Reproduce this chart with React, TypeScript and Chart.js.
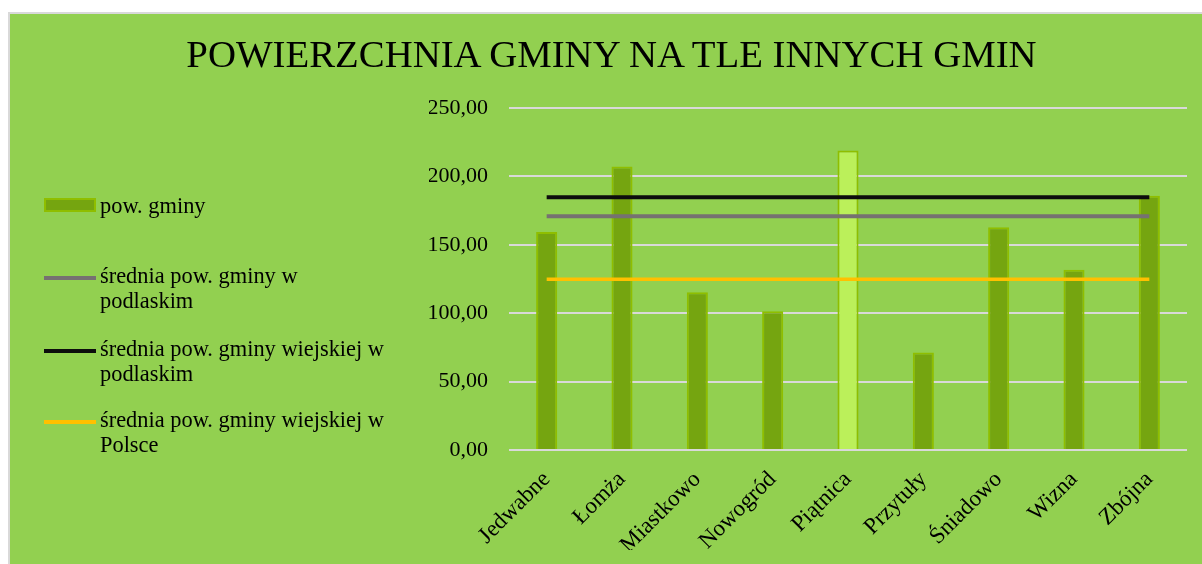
import React, { useEffect, useRef } from "react";
import { Chart, registerables } from "chart.js";

Chart.register(...registerables);

const categories = ["Jedwabne", "Łomża", "Miastkowo", "Nowogród", "Piątnica", "Przytuły", "Śniadowo", "Wizna", "Zbójna"];
const powGminy = [159.4, 207.3, 115.3, 101.4, 218.9, 71.2, 162.8, 131.8, 185.9];
const sredniaPodlaskie = [170.9, 170.9, 170.9, 170.9, 170.9, 170.9, 170.9, 170.9, 170.9];
const sredniaWiejskaPodlaskie = [184.8, 184.8, 184.8, 184.8, 184.8, 184.8, 184.8, 184.8, 184.8];
const sredniaWiejskaPolska = [124.8, 124.8, 124.8, 124.8, 124.8, 124.8, 124.8, 124.8, 124.8];
const yTicks = [0, 50, 100, 150, 200, 250];

const titleText = "POWIERZCHNIA GMINY NA TLE INNYCH GMIN";
const seriesNames = [
  "pow. gminy",
  "średnia pow. gminy w podlaskim",
  "średnia pow. gminy wiejskiej w podlaskim",
  "średnia pow. gminy wiejskiej w Polsce",
];

const FONT = "'Liberation Serif', 'DejaVu Serif', serif";
const BG = "#92D050";
const BAR_FILL = "#75A510";
const BAR_HILITE = "#BBF05A";
const BAR_BORDER = "#8FBE00";
const GRAY = "#767171";
const BLACK = "#0D0D0D";
const ORANGE = "#FFC000";

export default function App() {
  const canvasRef = useRef<HTMLCanvasElement | null>(null);

  useEffect(() => {
    document.body.style.margin = "0";
    const ctx = canvasRef.current!.getContext("2d")!;
    const chart = new Chart(ctx, {
      type: "bar",
      data: {
        labels: categories,
        datasets: [
          {
            type: "line",
            label: seriesNames[2],
            data: sredniaWiejskaPodlaskie,
            borderColor: BLACK,
            borderWidth: 4,
            pointRadius: 0,
            borderCapStyle: "butt",
            order: 0,
          },
          {
            type: "line",
            label: seriesNames[1],
            data: sredniaPodlaskie,
            borderColor: GRAY,
            borderWidth: 4,
            pointRadius: 0,
            borderCapStyle: "butt",
            order: 0,
          },
          {
            type: "line",
            label: seriesNames[3],
            data: sredniaWiejskaPolska,
            borderColor: ORANGE,
            borderWidth: 3.5,
            pointRadius: 0,
            borderCapStyle: "butt",
            order: 0,
          },
          {
            type: "bar",
            label: seriesNames[0],
            data: powGminy,
            backgroundColor: categories.map((c) => (c === "Piątnica" ? BAR_HILITE : BAR_FILL)),
            borderColor: BAR_BORDER,
            borderWidth: 2,
            borderSkipped: "bottom",
            categoryPercentage: 1,
            barPercentage: 0.28,
            order: 1,
          },
        ],
      } as any,
      options: {
        animation: false,
        responsive: false,
        maintainAspectRatio: false,
        layout: { padding: { left: 421, right: 15, top: 96, bottom: 14 } },
        plugins: {
          legend: { display: false },
          title: { display: false },
          tooltip: { enabled: false },
        },
        scales: {
          x: {
            grid: { display: false, drawTicks: false },
            border: { display: false },
            afterFit: (s: any) => {
              s.height = 100;
            },
            ticks: {
              minRotation: 45,
              maxRotation: 45,
              padding: 16,
              color: "#000000",
              font: { family: FONT, size: 23 },
            },
          },
          y: {
            min: 0,
            max: 250,
            afterFit: (s: any) => {
              s.width = 80;
            },
            afterBuildTicks: (s: any) => {
              s.ticks = yTicks.map((v) => ({ value: v }));
            },
            grid: { color: "#D9D9D9", lineWidth: 2, drawTicks: false },
            border: { display: false },
            ticks: {
              padding: 21,
              color: "#000000",
              font: { family: FONT, size: 22 },
              callback: (v: any) => Number(v).toFixed(2).replace(".", ","),
            },
          },
        },
      } as any,
    });
    return () => chart.destroy();
  }, []);

  const legendText: React.CSSProperties = {
    position: "absolute",
    left: 90,
    fontFamily: FONT,
    fontSize: 22.4,
    lineHeight: "25px",
    color: "#000",
    whiteSpace: "nowrap",
  };
  const marker = (top: number, color: string, h: number): React.CSSProperties => ({
    position: "absolute",
    left: 34,
    top,
    width: 52,
    height: h,
    background: color,
  });

  return (
    <div
      style={{
        position: "absolute",
        left: 8,
        top: 12,
        width: 1194,
        height: 552,
        background: BG,
        borderTop: "2px solid #D9D9D9",
        borderLeft: "2px solid #D9D9D9",
        boxSizing: "border-box",
        overflow: "hidden",
      }}
    >
      <canvas ref={canvasRef} width={1194} height={552} style={{ position: "absolute", left: -2, top: -2, width: 1194, height: 552 }} />
      <div
        style={{
          position: "absolute",
          left: 601.5,
          top: 21,
          transform: "translateX(-50%)",
          fontFamily: FONT,
          fontSize: 38.8,
          lineHeight: "38px",
          whiteSpace: "nowrap",
          color: "#000",
        }}
      >
        {titleText}
      </div>
      {/* legend */}
      <div style={{ ...marker(184, BAR_FILL, 14), border: `2px solid ${BAR_BORDER}`, boxSizing: "border-box" }} />
      <div style={{ ...legendText, top: 179 }}>{seriesNames[0]}</div>

      <div style={marker(262, GRAY, 3.5)} />
      <div style={{ ...legendText, top: 249 }}>
        średnia pow. gminy w<br />podlaskim
      </div>

      <div style={marker(335, BLACK, 3.5)} />
      <div style={{ ...legendText, top: 322 }}>
        średnia pow. gminy wiejskiej w<br />podlaskim
      </div>

      <div style={marker(406, ORANGE, 3.5)} />
      <div style={{ ...legendText, top: 393 }}>
        średnia pow. gminy wiejskiej w<br />Polsce
      </div>
    </div>
  );
}
